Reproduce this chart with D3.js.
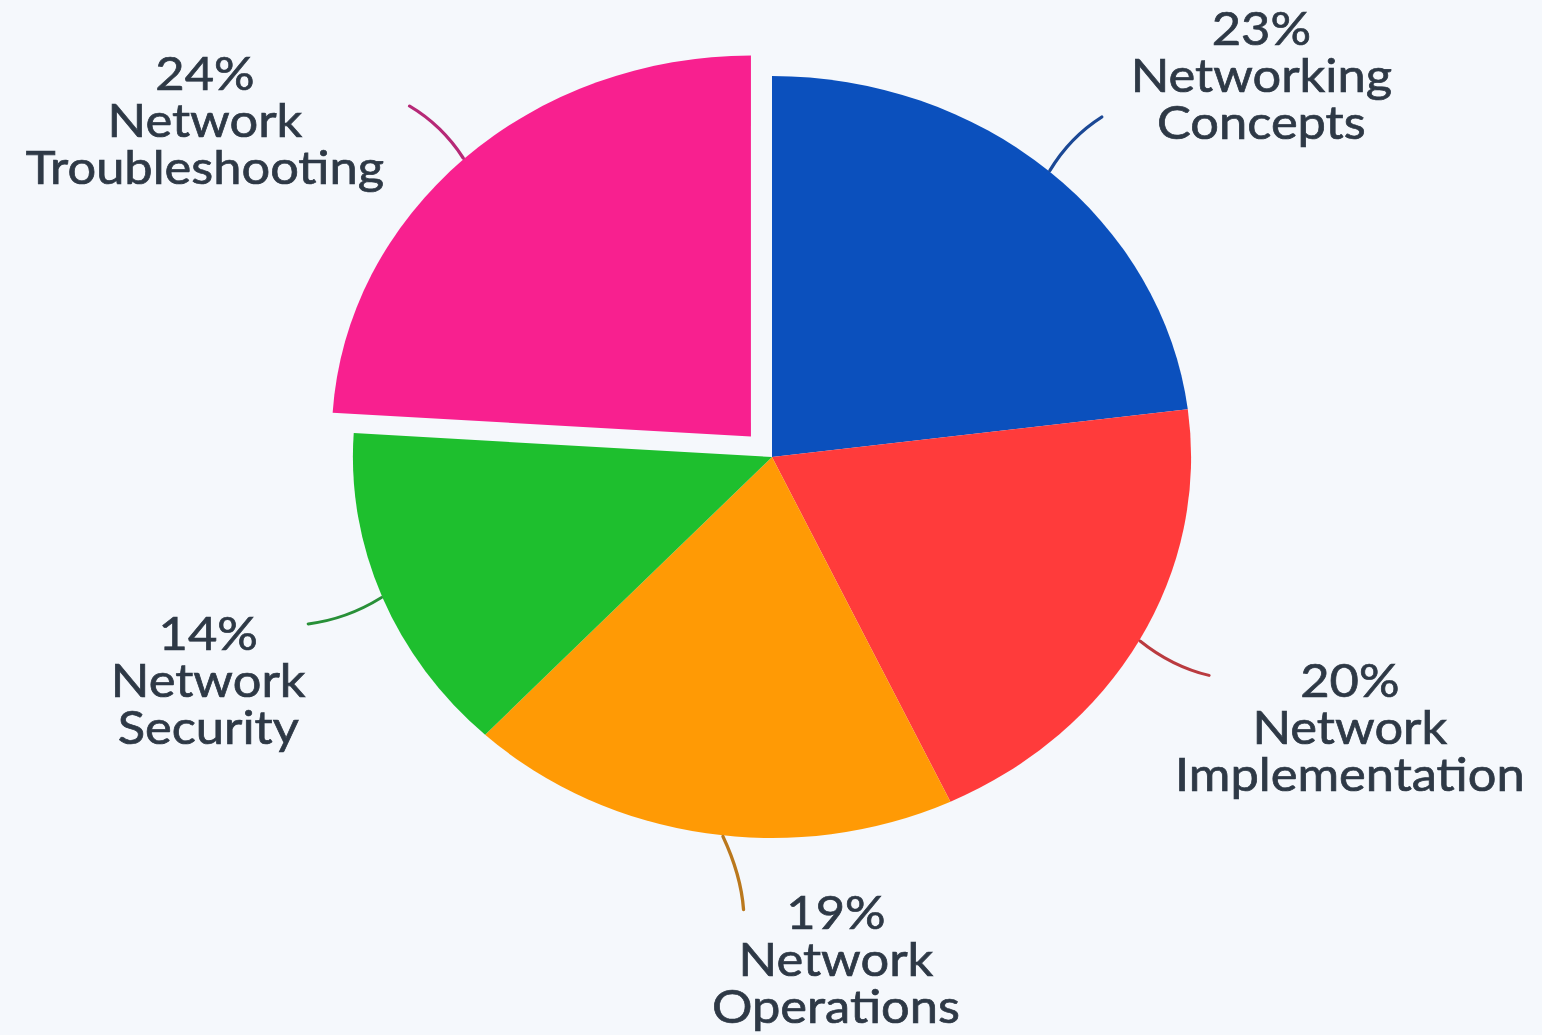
<!DOCTYPE html>
<html>
<head>
<meta charset="utf-8">
<script src="https://cdn.jsdelivr.net/npm/d3@7"></script>
<style>
  body { margin: 0; background: #f5f8fc; }
  svg { display: block; }
</style>
</head>
<body>
<svg width="1542" height="1035"></svg>
<script>
// exam domains and their weight (%)
var topics = ['Networking Concepts', 'Network Implementation', 'Network Operations', 'Network Security', 'Network Troubleshooting'];
var shares = [23, 20, 19, 14, 24];
var colours = ['#0b50bd', '#ff3b3b', '#ff9a05', '#1ebf2e', '#f8208f'];
var pulledOut = 'Network Troubleshooting';

// label placement relative to the end of each leader line (layout only)
var labelOffset = [[145, -72], [128, 22], [84, 19], [-91, 26], [-186, -16]];
// small turn of each leader line end (radians, layout only)
var leaderTurn = [0, 0, -0.1, 0, 0];

var width = 1542, height = 1035;
var radius = 381;
var stretch = 1.1;   // the picture is a little wider than tall

var rows = topics.map(function(t, i) {
    return { topic: t, share: shares[i], colour: colours[i], offset: labelOffset[i], turn: leaderTurn[i] };
});

var svg = d3.select('svg');

svg.append('rect')
    .attr('width', width)
    .attr('height', height)
    .attr('fill', '#f5f8fc');

var g = svg.append('g')
    .attr('transform', 'translate(772,457) scale(' + stretch + ',1)');

var pie = d3.pie()
    .sort(null)
    .value(function(d) { return d.share; });

var arc = d3.arc()
    .innerRadius(0)
    .outerRadius(radius);

var arcs = pie(rows);

function midAngle(d) { return (d.startAngle + d.endAngle) / 2; }
function polar(a, r) { return [Math.sin(a) * r, -Math.cos(a) * r]; }
function shift(d) { return d.data.topic === pulledOut ? 28 : 0; }

var slice = g.selectAll('.slice')
    .data(arcs)
    .enter()
    .append('g')
    .attr('class', 'slice')
    .attr('transform', function(d) {
        var p = polar(midAngle(d), shift(d));
        return 'translate(' + p[0] + ',' + p[1] + ')';
    });

slice.append('path')
    .attr('d', arc)
    .attr('fill', function(d) { return d.data.colour; });

// leader lines, only slightly bent
slice.append('path')
    .attr('fill', 'none')
    .attr('stroke', function(d) { return d3.interpolateRgb(d.data.colour, '#3a3a4a')(0.35); })
    .attr('stroke-width', 3)
    .attr('stroke-linecap', 'round')
    .attr('d', function(d) {
        var a = midAngle(d);
        var toVertical = Math.cos(a) > 0 ? (Math.sin(a) > 0 ? -1 : 1) : (Math.sin(a) > 0 ? 1 : -1);
        var p0 = polar(a + d.data.turn * 0.4, radius + 1);
        var p1 = polar(a + d.data.turn * 0.7 + toVertical * 0.02, radius * 1.1);
        var p2 = polar(a + d.data.turn, radius * 1.19);
        return 'M' + p0 + 'Q' + p1 + ' ' + p2;
    });

var label = slice.append('text')
    .attr('text-anchor', 'middle')
    .attr('font-family', 'Lato, "Open Sans", sans-serif')
    .attr('font-size', 46)
    .attr('fill', '#2e3946')
    .attr('stroke', '#2e3946')
    .attr('stroke-width', 0.7)
    .attr('transform', function(d) {
        var p = polar(midAngle(d) + d.data.turn, radius * 1.19);
        return 'translate(' + (p[0] + d.data.offset[0]) + ',' + (p[1] + d.data.offset[1]) + ')';
    });

label.each(function(d) {
    var lines = [d.data.share + '%'].concat(d.data.topic.split(' '));
    d3.select(this).selectAll('tspan')
        .data(lines)
        .enter()
        .append('tspan')
        .attr('x', 0)
        .attr('dy', function(l, i) { return i === 0 ? 0 : 47; })
        .text(function(l) { return l; });
});
</script>
</body>
</html>
